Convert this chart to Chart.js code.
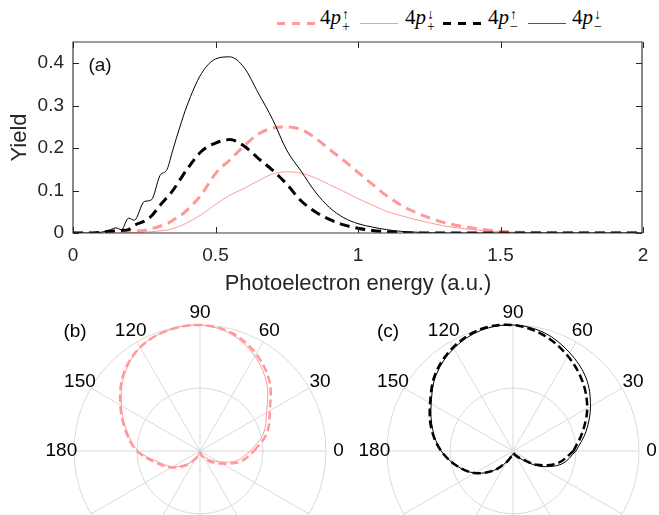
<!DOCTYPE html>
<html>
<head>
<meta charset="utf-8">
<script src="https://cdn.jsdelivr.net/npm/chart.js@4/dist/chart.umd.min.js"></script>
<style>
  html, body { margin: 0; padding: 0; background: #fff; overflow: hidden; }
  body { width: 659px; height: 515px; position: relative; }
  canvas { position: absolute; }
  #yieldChart { left: 0; top: 0; }
  #polarB { left: 35px; top: 300px; }
  #polarC { left: 348px; top: 300px; }
  .sample { position: absolute; top: 22px; width: 38px; }
  .lbl { position: absolute; top: 5px; font-family: 'Liberation Serif', 'DejaVu Serif', serif; font-size: 21px; line-height: 24px; color: #000; white-space: nowrap; }
  .st { display: inline-block; vertical-align: -7px; font-size: 14px; line-height: 12px; margin-left: 1px; }
  .st span { display: block; }
</style>
</head>
<body>
<div class="sample" style="left:277px;height:3px;background:repeating-linear-gradient(to right, rgb(255,153,153) 0 8px, transparent 8px 15px);"></div>
<div class="lbl" style="left:320px;">4<i>p</i><span class="st"><span>↑</span><span>+</span></span></div>
<div class="sample" style="left:360px;height:1px;top:23px;background:rgb(255,153,153);"></div>
<div class="lbl" style="left:405px;">4<i>p</i><span class="st"><span>↓</span><span>+</span></span></div>
<div class="sample" style="left:443px;height:3px;background:repeating-linear-gradient(to right, #000 0 8px, transparent 8px 15px);"></div>
<div class="lbl" style="left:488px;">4<i>p</i><span class="st"><span>↑</span><span>−</span></span></div>
<div class="sample" style="left:528px;height:1px;top:23px;background:#555;"></div>
<div class="lbl" style="left:572px;">4<i>p</i><span class="st"><span>↓</span><span>−</span></span></div>

<canvas id="yieldChart" width="659" height="300"></canvas>
<canvas id="polarB" width="330" height="215"></canvas>
<canvas id="polarC" width="330" height="215"></canvas>

<script>
/*jslint browser:true, indent:2*/
/*globals Chart*/
(function () {
  'use strict';

  // (a) photoelectron yield vs energy
  var energy = [0, 0.05, 0.1, 0.125, 0.15, 0.17, 0.195, 0.215, 0.25, 0.275, 0.305, 0.33, 0.35, 0.375, 0.4,
    0.45, 0.5, 0.55, 0.6, 0.65, 0.7, 0.75, 0.8, 0.85, 0.9, 0.95, 1.0, 1.05, 1.1, 1.15, 1.2,
    1.3, 1.4, 1.5, 1.6, 1.8, 2.0];
  var yieldPlusUp = [0, 0, 0, 0, 0, 0.001, 0.003, 0.004, 0.006, 0.01, 0.016, 0.022, 0.03, 0.04, 0.054,
    0.09, 0.14, 0.172, 0.205, 0.233, 0.247, 0.25, 0.244, 0.224, 0.197, 0.171, 0.143, 0.115, 0.088, 0.066, 0.049,
    0.025, 0.012, 0.004, 0.001, 0, 0];
  var yieldPlusDown = [0, 0, 0, 0, 0, 0, 0, 0.001, 0.002, 0.003, 0.005, 0.007, 0.01, 0.016, 0.024,
    0.043, 0.067, 0.089, 0.105, 0.123, 0.139, 0.144, 0.141, 0.13, 0.114, 0.098, 0.081, 0.066, 0.051, 0.041, 0.032,
    0.017, 0.008, 0.003, 0.001, 0, 0];
  var yieldMinusUp = [0, 0, 0.002, 0.004, 0.005, 0.006, 0.008, 0.018, 0.028, 0.04, 0.065, 0.084, 0.1, 0.125, 0.15,
    0.192, 0.212, 0.22, 0.205, 0.176, 0.148, 0.115, 0.076, 0.05, 0.032, 0.019, 0.011, 0.006, 0.003, 0.001, 0,
    0, 0, 0, 0, 0, 0];
  var yieldMinusDown = [0, 0, 0.002, 0.006, 0.012, 0.008, 0.035, 0.03, 0.074, 0.078, 0.135, 0.15, 0.195, 0.25, 0.3,
    0.375, 0.41, 0.415, 0.39, 0.33, 0.268, 0.195, 0.146, 0.097, 0.06, 0.036, 0.022, 0.014, 0.008, 0.004, 0.002,
    0, 0, 0, 0, 0, 0];
  var energyTicks = [0, 0.5, 1, 1.5, 2];
  var yieldTicks = [0, 0.1, 0.2, 0.3, 0.4];

  // (b), (c) normalised angular distributions, angle in degrees
  var angles = [0, 15, 30, 45, 60, 75, 90, 105, 120, 135, 150, 165, 180,
    195, 210, 225, 240, 255, 270, 285, 300, 315, 330, 345, 360];
  var rPlusUp = [0.43, 0.55, 0.64, 0.78, 0.89, 0.97, 1.0, 0.99, 0.95, 0.86, 0.73, 0.61, 0.5,
    0.36, 0.26, 0.16, 0.07, 0.03, 0.01, 0.03, 0.06, 0.12, 0.2, 0.33, 0.43];
  var rPlusDown = [0.40, 0.52, 0.61, 0.75, 0.87, 0.96, 1.0, 0.99, 0.95, 0.85, 0.72, 0.6, 0.49,
    0.34, 0.25, 0.15, 0.07, 0.03, 0.01, 0.02, 0.04, 0.09, 0.17, 0.3, 0.40];
  var rMinusUp = [0.48, 0.57, 0.68, 0.78, 0.87, 0.95, 1.0, 1.0, 0.95, 0.87, 0.76, 0.67, 0.57,
    0.46, 0.35, 0.22, 0.1, 0.04, 0.02, 0.02, 0.04, 0.08, 0.22, 0.37, 0.48];
  var rMinusDown = [0.5, 0.6, 0.71, 0.82, 0.9, 0.97, 1.0, 0.99, 0.94, 0.86, 0.75, 0.66, 0.57,
    0.46, 0.35, 0.22, 0.1, 0.04, 0.02, 0.02, 0.04, 0.09, 0.24, 0.4, 0.5];
  var gridRadii = [0.5, 1];
  var spokeAngles = [0, 30, 60, 90, 120, 150, 180, 210, 240, 270, 300, 330];
  var angleLabels = [0, 30, 60, 90, 120, 150, 180];

  var PINK = 'rgb(255,153,153)';
  var INK = '#262626';
  var FONT = '"Liberation Sans", Arial, sans-serif';
  var PX_PER_UNIT = 126; // polar radius of r = 1

  var points, plain, boxPlugin, polarGrid, polarChart;

  points = function (xs, ys) {
    return xs.map(function (x, i) { return {x: x, y: ys[i]}; });
  };
  plain = function (v) { return String(Math.round(v * 100) / 100); };

  // MATLAB style box with inward ticks, drawn from the chart's own scales
  boxPlugin = {
    id: 'axesBox',
    afterDraw: function (chart) {
      var ctx = chart.ctx, a = chart.chartArea, xs = chart.scales.x, ys = chart.scales.y, len = 6;
      var l = Math.round(a.left), r = Math.round(a.right) - 1;
      var t = Math.round(a.top), b = Math.round(a.bottom);
      ctx.save();
      ctx.setLineDash([]);
      ctx.strokeStyle = '#3a3a3a';
      ctx.lineWidth = 1.2;
      ctx.beginPath();
      ctx.rect(l, t, r - l, b - t);
      ctx.stroke();
      ctx.fillStyle = INK;
      xs.ticks.forEach(function (tk) {
        var px = Math.round(xs.getPixelForValue(tk.value));
        ctx.fillRect(px, b - len, 1, len);
        ctx.fillRect(px, t, 1, len);
      });
      ys.ticks.forEach(function (tk) {
        var py = Math.round(ys.getPixelForValue(tk.value));
        ctx.fillRect(l, py, len, 1);
        ctx.fillRect(r - len, py, len, 1);
      });
      ctx.fillStyle = '#111';
      ctx.font = '19px ' + FONT;
      ctx.textAlign = 'center';
      ctx.textBaseline = 'middle';
      ctx.fillText('(a)', a.left + 27, a.top + 24);
      ctx.restore();
    }
  };

  new Chart(document.getElementById('yieldChart'), {
    type: 'line',
    data: {
      datasets: [
        {data: points(energy, yieldPlusUp), borderColor: PINK, borderWidth: 3, borderDash: [10, 6], order: 4},
        {data: points(energy, yieldPlusDown), borderColor: PINK, borderWidth: 1, order: 3},
        {data: points(energy, yieldMinusUp), borderColor: '#000', borderWidth: 3, borderDash: [10, 6], order: 2},
        {data: points(energy, yieldMinusDown), borderColor: '#000', borderWidth: 1, order: 1}
      ]
    },
    options: {
      responsive: false,
      animation: false,
      events: [],
      layout: {padding: {left: 0, top: 42, right: 16, bottom: 0}},
      elements: {
        point: {radius: 0},
        line: {cubicInterpolationMode: 'monotone', fill: false}
      },
      plugins: {legend: {display: false}, tooltip: {enabled: false}},
      scales: {
        x: {
          type: 'linear',
          min: 0,
          max: 2,
          afterFit: function (scale) {
            scale.height = 67;
            scale.paddingLeft = 0;
            scale.paddingRight = 0;
          },
          afterBuildTicks: function (scale) {
            scale.ticks = energyTicks.map(function (v) { return {value: v}; });
          },
          grid: {display: false, drawTicks: false},
          border: {display: false},
          ticks: {color: INK, font: {family: FONT, size: 19}, padding: 11, maxRotation: 0, callback: plain},
          title: {
            display: true,
            text: 'Photoelectron energy (a.u.)',
            color: INK,
            font: {family: FONT, size: 22},
            padding: {top: 0, bottom: 3}
          }
        },
        y: {
          min: 0,
          max: 0.45,
          afterFit: function (scale) {
            scale.width = 73;
            scale.paddingTop = 0;
            scale.paddingBottom = 0;
          },
          afterBuildTicks: function (scale) {
            scale.ticks = yieldTicks.map(function (v) { return {value: v}; });
          },
          grid: {display: false, drawTicks: false},
          border: {display: false},
          ticks: {color: INK, font: {family: FONT, size: 19}, padding: 9, callback: plain},
          title: {
            display: true,
            text: 'Yield',
            color: INK,
            font: {family: FONT, size: 22},
            padding: {top: 7, bottom: 0}
          }
        }
      }
    },
    plugins: [boxPlugin]
  });

  // half-visible polar grid: rings, spokes, angle labels, panel letter
  polarGrid = {
    id: 'polarGrid',
    beforeDatasetsDraw: function (chart, args, opts) {
      var ctx = chart.ctx, xs = chart.scales.x, ys = chart.scales.y;
      var cx = xs.getPixelForValue(0), cy = ys.getPixelForValue(0);
      var unit = xs.getPixelForValue(1) - cx;
      ctx.save();
      ctx.strokeStyle = '#d9d9d9';
      ctx.lineWidth = 1;
      gridRadii.forEach(function (r) {
        ctx.beginPath();
        ctx.arc(cx, cy, r * unit, 0, 2 * Math.PI);
        ctx.stroke();
      });
      ctx.beginPath();
      spokeAngles.forEach(function (deg) {
        var t = deg * Math.PI / 180;
        ctx.moveTo(cx, cy);
        ctx.lineTo(cx + unit * Math.cos(t), cy - unit * Math.sin(t));
      });
      ctx.stroke();
      ctx.fillStyle = '#000';
      ctx.font = '19px ' + FONT;
      ctx.textAlign = 'center';
      ctx.textBaseline = 'middle';
      angleLabels.forEach(function (deg) {
        var t = deg * Math.PI / 180;
        ctx.fillText(String(deg), cx + 1.1 * unit * Math.cos(t), cy - 1.1 * unit * Math.sin(t));
      });
      ctx.fillText(opts.panel, cx - 125, cy - 119);
      ctx.restore();
    }
  };

  polarChart = function (id, panel, color, rUp, rDown) {
    var toXY = function (rs) {
      return angles.map(function (deg, i) {
        var t = deg * Math.PI / 180;
        return {x: rs[i] * Math.cos(t), y: rs[i] * Math.sin(t)};
      });
    };
    var canvas = document.getElementById(id);
    var halfW = canvas.width / 2, above = 151;
    return new Chart(canvas, {
      type: 'scatter',
      data: {
        datasets: [
          {data: toXY(rUp), borderColor: color, borderWidth: 2.5, borderDash: [8, 4], showLine: true, order: 2},
          {data: toXY(rDown), borderColor: color, borderWidth: 1, showLine: true, order: 1}
        ]
      },
      options: {
        responsive: false,
        animation: false,
        events: [],
        layout: {padding: 0},
        elements: {point: {radius: 0}, line: {tension: 0.35}},
        plugins: {legend: {display: false}, tooltip: {enabled: false}, polarGrid: {panel: panel}},
        scales: {
          x: {display: false, min: -halfW / PX_PER_UNIT, max: halfW / PX_PER_UNIT},
          y: {display: false, min: -(canvas.height - above) / PX_PER_UNIT, max: above / PX_PER_UNIT}
        }
      },
      plugins: [polarGrid]
    });
  };

  polarChart('polarB', '(b)', PINK, rPlusUp, rPlusDown);
  polarChart('polarC', '(c)', '#000', rMinusUp, rMinusDown);
}());
</script>
</body>
</html>
